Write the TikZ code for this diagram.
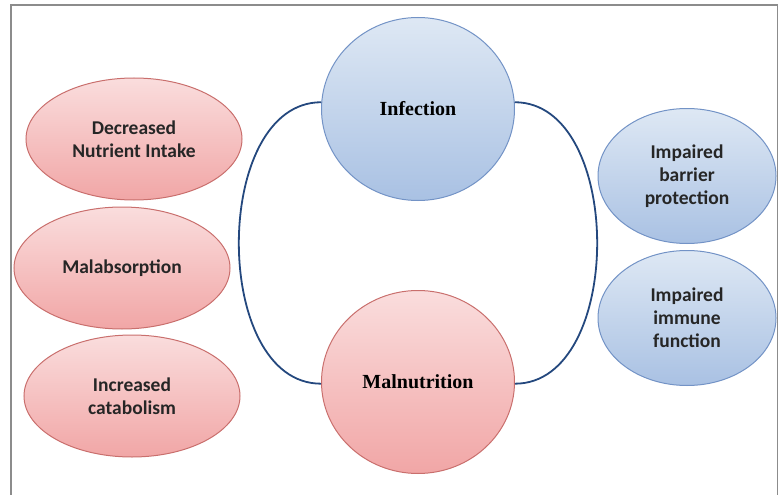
\documentclass[tikz,border=0pt]{standalone}
\usepackage{fontspec}
\setmainfont{Liberation Serif}
\newfontfamily\calfont{Carlito}
\usetikzlibrary{shapes.geometric,positioning}

\definecolor{pinktop}{HTML}{FADDDD}
\definecolor{pinkbot}{HTML}{F1A6A6}
\definecolor{pinkline}{HTML}{C96F6D}
\definecolor{bluetop}{HTML}{DEE8F4}
\definecolor{bluebot}{HTML}{A9C1E3}
\definecolor{blueline}{HTML}{7393C6}
\definecolor{arcblue}{HTML}{24487E}

\begin{document}
\begin{tikzpicture}[
		x=1pt, y=-1pt,
		node distance = 100pt,
		on grid,
		every node/.style = {ellipse, inner sep=0pt, align=center, line width=1pt},
		pinkfill/.style = {draw=pinkline, top color=pinktop, bottom color=pinkbot},
		bluefill/.style = {draw=blueline, top color=bluetop, bottom color=bluebot},
		hub/.style = {minimum width=193pt, minimum height=183pt,
			font=\fontsize{20}{23}\selectfont\bfseries, text=black},
		cause/.style = {pinkfill, minimum width=216pt, minimum height=122pt,
			font=\calfont\fontsize{19.5}{23}\selectfont\bfseries, text=black!85},
		effect/.style = {bluefill, minimum width=178pt, minimum height=135pt,
			font=\calfont\fontsize{19.5}{23}\selectfont\bfseries, text=black!85},
		loop/.style = {draw=arcblue, line width=1.8pt}
		]
		\useasboundingbox (0,0) rectangle (779,495);
		\draw[draw=black!45, line width=1.5pt] (11,495) |- (777.5,5) -- (777.5,495);

		\node[hub, bluefill] (I) at (418,109) {Infection};
		\node[hub, pinkfill] (M) [below=273pt of I] {Malnutrition};

		\node[cause] (D) at (134,139) {Decreased\\Nutrient Intake};
		\node[cause] (A) [below left=129pt and 12pt of D] {Malabsorption};
		\node[cause] (C) [below right=128pt and 10pt of A] {Increased\\catabolism};

		\node[effect] (B) at (687,176) {Impaired\\barrier\\protection};
		\node[effect] (F) [below=142pt of B] {Impaired\\immune\\function};

		\path[loop]
		(I.176) edge[out=180, in=180, looseness=1.0] (M.181)
		(I.4)   edge[out=0, in=0, looseness=1.0]     (M.359);
\end{tikzpicture}
\end{document}
